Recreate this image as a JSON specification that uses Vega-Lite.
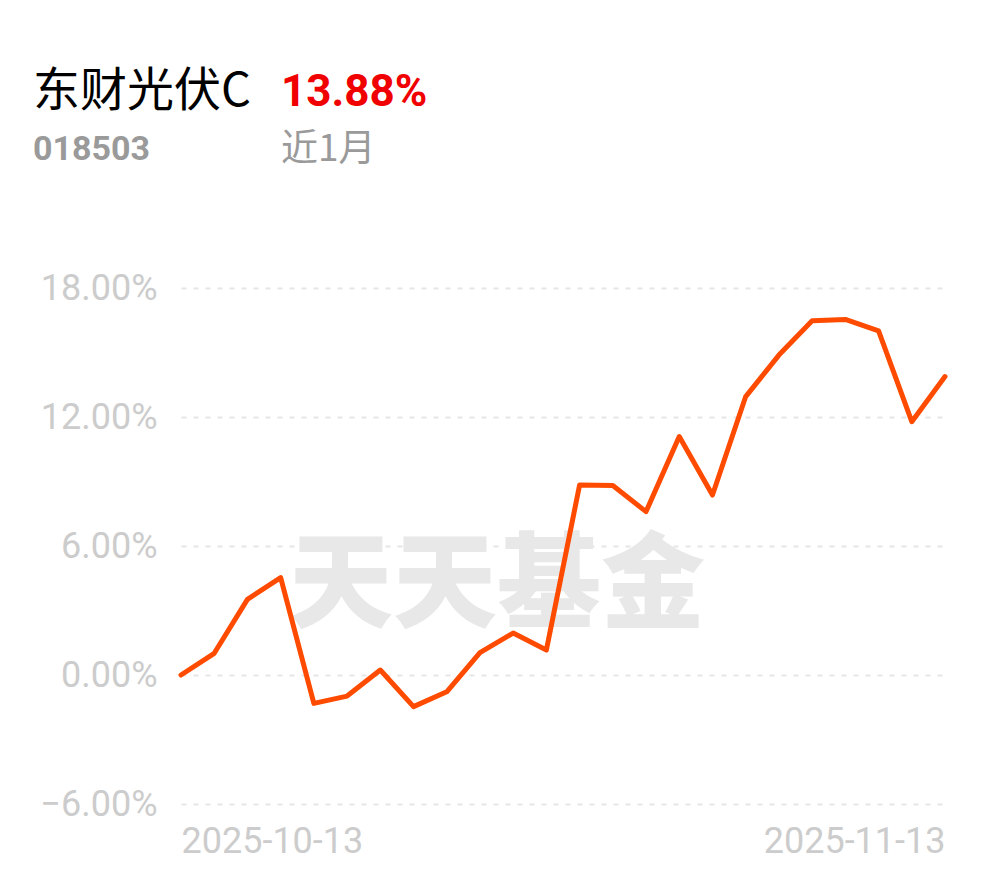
{
  "$schema": "https://vega.github.io/schema/vega-lite/v6.json",
  "background": "white",
  "padding": {"left": 33, "top": 68, "right": 10, "bottom": 12},
  "config": {"view": {"stroke": null}},
  "datasets": {
    "nav": [
      {"date": "2025-10-13", "value": 0.0},
      {"date": "2025-10-14", "value": 0.0101},
      {"date": "2025-10-15", "value": 0.0352},
      {"date": "2025-10-16", "value": 0.0453},
      {"date": "2025-10-17", "value": -0.0132},
      {"date": "2025-10-20", "value": -0.0098},
      {"date": "2025-10-21", "value": 0.0023},
      {"date": "2025-10-22", "value": -0.0147},
      {"date": "2025-10-23", "value": -0.0078},
      {"date": "2025-10-24", "value": 0.0104},
      {"date": "2025-10-27", "value": 0.0195},
      {"date": "2025-10-28", "value": 0.0116},
      {"date": "2025-10-29", "value": 0.0884},
      {"date": "2025-10-30", "value": 0.0881},
      {"date": "2025-10-31", "value": 0.076},
      {"date": "2025-11-03", "value": 0.1109},
      {"date": "2025-11-04", "value": 0.0837},
      {"date": "2025-11-05", "value": 0.1295},
      {"date": "2025-11-06", "value": 0.1488},
      {"date": "2025-11-07", "value": 0.1648},
      {"date": "2025-11-10", "value": 0.1654},
      {"date": "2025-11-11", "value": 0.1601},
      {"date": "2025-11-12", "value": 0.1178},
      {"date": "2025-11-13", "value": 0.1388}
    ]
  },
  "spacing": 82,
  "vconcat": [
    {
      "spacing": 0,
      "hconcat": [
        {
          "width": 100,
          "height": 0,
          "data": {"values": []},
          "mark": "point",
          "title": {
            "text": "东财光伏C",
            "subtitle": "018503",
            "anchor": "start",
            "offset": 0,
            "dx": -148,
            "font": "Noto Sans CJK SC",
            "fontSize": 47,
            "fontWeight": "normal",
            "color": "#000000",
            "subtitleFont": "Roboto",
            "subtitleFontSize": 34,
            "subtitleFontWeight": "bold",
            "subtitleColor": "#9a9a9a",
            "subtitlePadding": 17
          }
        },
        {
          "width": 200,
          "height": 0,
          "data": {"values": []},
          "mark": "point",
          "title": {
            "text": "13.88%",
            "subtitle": "近1月",
            "anchor": "start",
            "offset": 0,
            "font": "Roboto",
            "fontSize": 44,
            "fontWeight": "bold",
            "color": "#f00000",
            "subtitleFont": "Noto Sans CJK SC",
            "subtitleFontSize": 37,
            "subtitleFontWeight": "normal",
            "subtitleColor": "#9a9a9a",
            "subtitlePadding": 17
          }
        }
      ]
    },
    {
      "width": 764,
      "height": 516,
      "layer": [
        {
          "data": {"values": [{}]},
          "mark": {
            "type": "text",
            "text": "天天基金",
            "font": "Noto Sans CJK SC",
            "fontWeight": 900,
            "fontSize": 104,
            "color": "#e8e8e8",
            "align": "center",
            "baseline": "middle",
            "dx": 17
          },
          "encoding": {
            "x": {"datum": "2025-10-24", "type": "ordinal"},
            "y": {"datum": 0.04, "type": "quantitative"}
          }
        },
        {
          "data": {"name": "nav"},
          "mark": {
            "type": "line",
            "color": "#ff4b00",
            "strokeWidth": 5,
            "strokeJoin": "round",
            "strokeCap": "round"
          },
          "encoding": {
            "x": {
              "field": "date",
              "type": "ordinal",
              "scale": {"type": "point", "padding": 0},
              "axis": {
                "title": null,
                "values": ["2025-10-13", "2025-11-13"],
                "labelAlign": {"condition": {"test": "datum.value === '2025-10-13'", "value": "left"}, "value": "right"},
                "labelAngle": 0,
                "labelLimit": 400,
                "labelFont": "Roboto",
                "labelFontSize": 36,
                "labelColor": "#cccccc",
                "labelPadding": 37,
                "domain": false,
                "ticks": false,
                "grid": false
              }
            },
            "y": {
              "field": "value",
              "type": "quantitative",
              "scale": {"domain": [-0.06, 0.18], "nice": false, "zero": false},
              "axis": {
                "title": null,
                "values": [-0.06, 0, 0.06, 0.12, 0.18],
                "format": ".2%",
                "labelFont": "Roboto",
                "labelFontSize": 36,
                "labelColor": "#cccccc",
                "labelPadding": 24,
                "minExtent": 148,
                "domain": false,
                "ticks": false,
                "grid": true,
                "gridColor": "#e6e6e6",
                "gridWidth": 2,
                "gridDash": [5, 7]
              }
            }
          }
        }
      ]
    }
  ]
}
